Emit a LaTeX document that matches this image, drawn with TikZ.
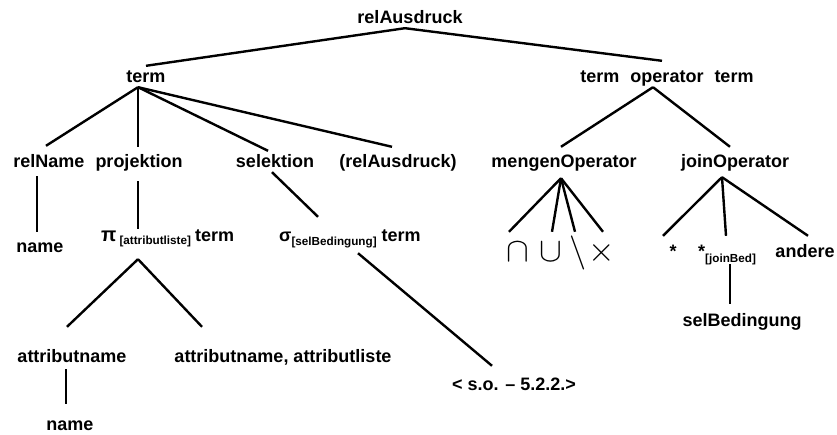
\documentclass[tikz,border=0pt]{standalone}
\usepackage{graphicx}
\usepackage{fontspec}
\setmainfont{Liberation Sans}
\newcommand{\lowidx}[2][-3pt]{\raisebox{#1}{\fontsize{11.7}{12}\selectfont\bfseries #2}}
\newcommand{\bigsym}[1]{\scalebox{1.37}{$#1$}}

\begin{document}
\begin{tikzpicture} [x=1pt,y=-1pt,line width=2.4pt,
  lbl/.style={font=\fontsize{18}{20}\selectfont\bfseries,inner xsep=0pt,inner ysep=3pt,text height=13pt,text depth=0pt,anchor=base},
  sym/.style={font=\fontsize{24.88}{25}\selectfont,inner xsep=0pt,inner ysep=3pt,text height=26pt,text depth=0pt,anchor=base}]

  \useasboundingbox (0,0) rectangle (837,435);

  \node[lbl] (root) at (410,24) {relAusdruck};
  \node[lbl] (term) at (146,83) {term};
  \node[lbl] (bin) at (667,83) {term\hspace{11pt}operator\hspace{11pt}term};
  \node[lbl] (relname) at (49,168) {relName};
  \node[lbl] (proj) at (139,168) {projektion};
  \node[lbl] (sel) at (275,168) {selektion};
  \node[lbl] (klammer) at (398,168) {(relAusdruck)};
  \node[lbl] (mengop) at (564,168) {mengenOperator};
  \node[lbl] (joinop) at (735,168) {joinOperator};
  \node[lbl] (name) at (40,253) {name};
  \node[lbl] (pi) [anchor=base west] at (100,242) {{\fontsize{20}{20}\selectfont π}\hspace{3pt}\lowidx{[attributliste]}\hspace{4pt}term};
  \node[lbl] (sigma) [anchor=base west] at (278,242) {σ\lowidx[-4pt]{[selBedingung]}\hspace{5pt}term};
  \node[lbl] (attname) at (72,362) {attributname};
  \node[lbl] (attlist) at (283,362) {attributname, attributliste};
  \node[lbl] (name2) at (70,430) {name};
  \node[lbl] (so) at (514,390) {< s.o. – 5.2.2.>};
  \node[sym] (cap) at (518,262) {\bigsym{\cap}};
  \node[sym] (cup) at (551,262) {\bigsym{\cup}};
  \node[sym] (minus) at (578,262) {\bigsym{\setminus}};
  \node[sym] (times) at (602,262) {\bigsym{\times}};
  \node[lbl] (star) at (673,258) {*};
  \node[lbl] (starbed) [anchor=base west] at (697,258) {*\lowidx[-5pt]{[joinBed]}};
  \node[lbl] (andere) at (805,258) {andere};
  \node[lbl] (selbed) at (742,326) {selBedingung};

  \path
    ([xshift=-5pt]root.south) edge (term.north)
        edge ([xshift=-5pt,yshift=5pt]bin.north)
    ([xshift=-8pt]term.south) edge ([xshift=-3pt,yshift=5pt]relname.north)
        edge ([xshift=-1pt,yshift=4pt]proj.north)
        edge ([xshift=-7pt]sel.north)
        edge ([xshift=-6pt,yshift=4pt]klammer.north)
    ([xshift=-12pt,yshift=-4pt]relname.south) edge ([xshift=-3pt,yshift=4pt]name.north)
    ([xshift=-1pt,yshift=-9pt]proj.south) edge ([xshift=38pt,yshift=-4pt]pi.north west)
    ([xshift=-3pt]sel.south) edge ([xshift=40pt,yshift=8pt]sigma.north west)
    ([xshift=38pt,yshift=-13pt]pi.south west) edge ([xshift=-5pt,yshift=18pt]attname.north)
        edge ([xshift=-81pt,yshift=18pt]attlist.north)
    ([xshift=-6pt,yshift=-3pt]attname.south) edge ([xshift=-4pt,yshift=9pt]name2.north)
    ([xshift=80pt,yshift=-7pt]sigma.south west) edge ([xshift=-22pt,yshift=7pt]so.north)
    ([xshift=-14pt]bin.south) edge ([xshift=-3pt,yshift=4pt]mengop.north)
        edge ([xshift=-5pt,yshift=4pt]joinop.north)
    ([xshift=-3pt,yshift=-6pt]mengop.south) edge ([xshift=-9pt]cap.north)
        edge ([xshift=1pt]cup.north)
        edge ([xshift=-3pt]minus.north)
        edge ([xshift=1pt]times.north)
    ([xshift=-13pt,yshift=-5pt]joinop.south) edge ([xshift=-10pt,yshift=5pt]star.north)
        edge ([xshift=29pt,yshift=5pt]starbed.north west)
        edge ([xshift=3pt,yshift=5pt]andere.north)
    ([xshift=33pt,yshift=-2pt]starbed.south west) edge ([xshift=-12pt,yshift=5pt]selbed.north);

\end{tikzpicture}
\end{document}
